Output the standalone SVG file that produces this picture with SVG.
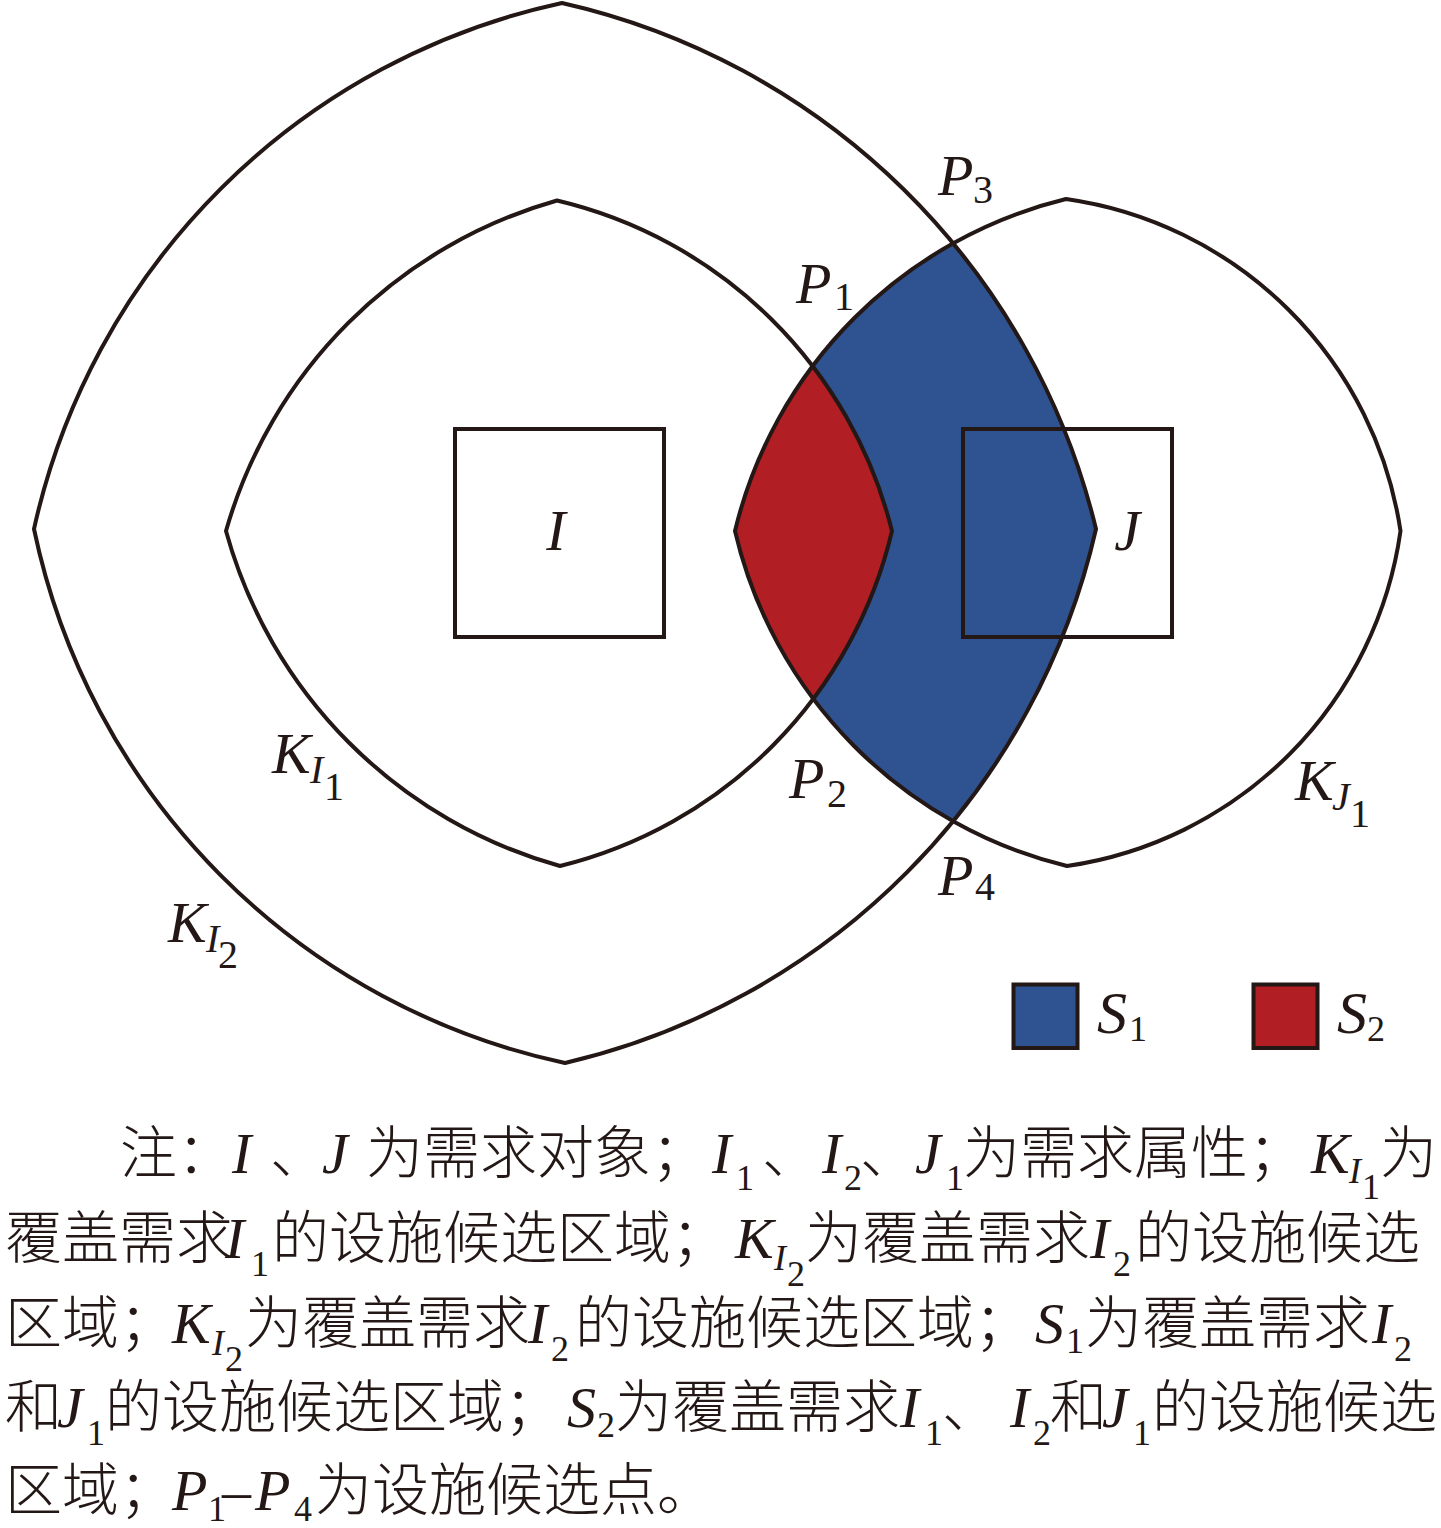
<svg xmlns="http://www.w3.org/2000/svg" xmlns:xlink="http://www.w3.org/1999/xlink" width="1441" height="1528" viewBox="0 0 1441 1528">
<style>
.ol{fill:none;stroke:#231815;stroke-width:4;stroke-linejoin:miter}
.sq{fill:none;stroke:#231815;stroke-width:4}
.it{font-family:"Liberation Serif","Times New Roman",serif;font-style:italic;fill:#231815}
.rm{font-family:"Liberation Serif","Times New Roman",serif;fill:#231815}
.cn{font-family:"Noto Sans CJK SC","Noto Sans CJK JP",sans-serif;font-size:57px;font-weight:300;fill:#231815}
.big{font-size:58px}
.sub{font-size:40px}
.nb{font-size:58px}
.ns{font-size:36px}
</style>
<defs>
<path id="kI2" d="M562,3 A710,710 0 0 1 1096,529 A710,710 0 0 1 565,1063 A690,690 0 0 1 34,529 A690,690 0 0 1 562,3 Z"/>
<path id="kI1" d="M557,200.5 A452,452 0 0 1 892,531 A452,452 0 0 1 560,866 A480,480 0 0 1 226,531 A480,480 0 0 1 557,200.5 Z"/>
<path id="kJ1" d="M1066,199 A394,394 0 0 1 1400.5,531 A394,394 0 0 1 1067,866 A450,450 0 0 1 735,531 A450,450 0 0 1 1066,199 Z"/>
<clipPath id="clipJ"><use xlink:href="#kJ1"/></clipPath>
</defs>
<rect width="1441" height="1528" fill="#ffffff"/>

<g id="regions" clip-path="url(#clipJ)">
<use id="S1-fill" xlink:href="#kI2" fill="#2f5291"/>
<use id="S2-fill" xlink:href="#kI1" fill="#b11e24"/>
</g>

<g id="K_I2"><use xlink:href="#kI2" class="ol"/></g>
<g id="K_I1"><use xlink:href="#kI1" class="ol"/></g>
<g id="K_J1"><use xlink:href="#kJ1" class="ol"/></g>

<g id="node-I">
<rect class="sq" x="455" y="429" width="209" height="208"/>
<text class="it big" x="556" y="550" text-anchor="middle">I</text>
</g>
<g id="node-J">
<rect class="sq" x="963" y="429" width="209" height="208"/>
<text class="it big" x="1127" y="550" text-anchor="middle">J</text>
</g>

<g id="points">
<text class="it big" x="938" y="195">P</text><text class="rm sub" x="973" y="203">3</text>
<text class="it big" x="796" y="303">P</text><text class="rm sub" x="834" y="310">1</text>
<text class="it big" x="789" y="798">P</text><text class="rm sub" x="827" y="807">2</text>
<text class="it big" x="938" y="895">P</text><text class="rm sub" x="975" y="900">4</text>
</g>

<g id="region-labels">
<text class="it big" x="272" y="773">K</text><text class="it sub" x="310" y="783">I</text><text class="rm sub" x="324" y="800">1</text>
<text class="it big" x="168" y="942">K</text><text class="it sub" x="206" y="952">I</text><text class="rm sub" x="218" y="968">2</text>
<text class="it big" x="1295" y="800">K</text><text class="it sub" x="1332" y="810">J</text><text class="rm sub" x="1350" y="827">1</text>
</g>

<g id="legend">
<rect x="1013.5" y="984.5" width="64" height="63.5" fill="#2f5291" stroke="#231815" stroke-width="4"/>
<text class="it" font-size="60" x="1097" y="1033">S</text><text class="rm" font-size="36" x="1129" y="1041">1</text>
<rect x="1253.5" y="984.5" width="64" height="63.5" fill="#b11e24" stroke="#231815" stroke-width="4"/>
<text class="it" font-size="60" x="1337" y="1033">S</text><text class="rm" font-size="36" x="1367" y="1041">2</text>
</g>

<g id="note">
<text class="cn" x="120" y="1173">注：</text>
<text class="it nb" x="232" y="1173">I</text>
<text class="cn" x="270" y="1173">、</text>
<text class="it nb" x="322" y="1173">J</text>
<text class="cn" x="366" y="1173">为需求对象；</text>
<text class="it nb" x="712" y="1173">I</text><text class="rm ns" x="736" y="1190">1</text>
<text class="cn" x="762" y="1173">、</text>
<text class="it nb" x="822" y="1173">I</text><text class="rm ns" x="844" y="1190">2</text>
<text class="cn" x="860" y="1173">、</text>
<text class="it nb" x="915" y="1173">J</text><text class="rm ns" x="946" y="1190">1</text>
<text class="cn" x="963" y="1173">为需求属性；</text>
<text class="it nb" x="1311" y="1173">K</text><text class="it ns" x="1349" y="1183">I</text><text class="rm ns" x="1362" y="1199">1</text>
<text class="cn" x="1380" y="1173">为</text>

<text class="cn" x="5" y="1258">覆盖需求</text>
<text class="it nb" x="225" y="1258">I</text><text class="rm ns" x="251" y="1276">1</text>
<text class="cn" x="272" y="1258">的设施候选区域；</text>
<text class="it nb" x="735" y="1258">K</text><text class="it ns" x="774" y="1270">I</text><text class="rm ns" x="787" y="1286">2</text>
<text class="cn" x="805" y="1258">为覆盖需求</text>
<text class="it nb" x="1090" y="1258">I</text><text class="rm ns" x="1113" y="1276">2</text>
<text class="cn" x="1135" y="1258">的设施候选</text>

<text class="cn" x="5" y="1343">区域；</text>
<text class="it nb" x="172" y="1343">K</text><text class="it ns" x="212" y="1355">I</text><text class="rm ns" x="225" y="1371">2</text>
<text class="cn" x="245" y="1343">为覆盖需求</text>
<text class="it nb" x="528" y="1343">I</text><text class="rm ns" x="551" y="1361">2</text>
<text class="cn" x="575" y="1343">的设施候选区域；</text>
<text class="it nb" x="1035" y="1343">S</text><text class="rm ns" x="1066" y="1353">1</text>
<text class="cn" x="1085" y="1343">为覆盖需求</text>
<text class="it nb" x="1372" y="1343">I</text><text class="rm ns" x="1394" y="1361">2</text>

<text class="cn" x="5" y="1427">和</text>
<text class="it nb" x="57" y="1427">J</text><text class="rm ns" x="87" y="1445">1</text>
<text class="cn" x="105" y="1427">的设施候选区域；</text>
<text class="it nb" x="567" y="1427">S</text><text class="rm ns" x="597" y="1437">2</text>
<text class="cn" x="615" y="1427">为覆盖需求</text>
<text class="it nb" x="900" y="1427">I</text><text class="rm ns" x="925" y="1445">1</text>
<text class="cn" x="942" y="1427">、</text>
<text class="it nb" x="1010" y="1427">I</text><text class="rm ns" x="1033" y="1445">2</text>
<text class="cn" x="1050" y="1427">和</text>
<text class="it nb" x="1102" y="1427">J</text><text class="rm ns" x="1133" y="1445">1</text>
<text class="cn" x="1152" y="1427">的设施候选</text>

<text class="cn" x="5" y="1510">区域；</text>
<text class="it nb" x="172" y="1510">P</text><text class="rm ns" x="208" y="1521">1</text>
<text class="rm nb" x="222" y="1510">–</text>
<text class="it nb" x="255" y="1510">P</text><text class="rm ns" x="294" y="1521">4</text>
<text class="cn" x="315" y="1510">为设施候选点。</text>
</g>
</svg>
